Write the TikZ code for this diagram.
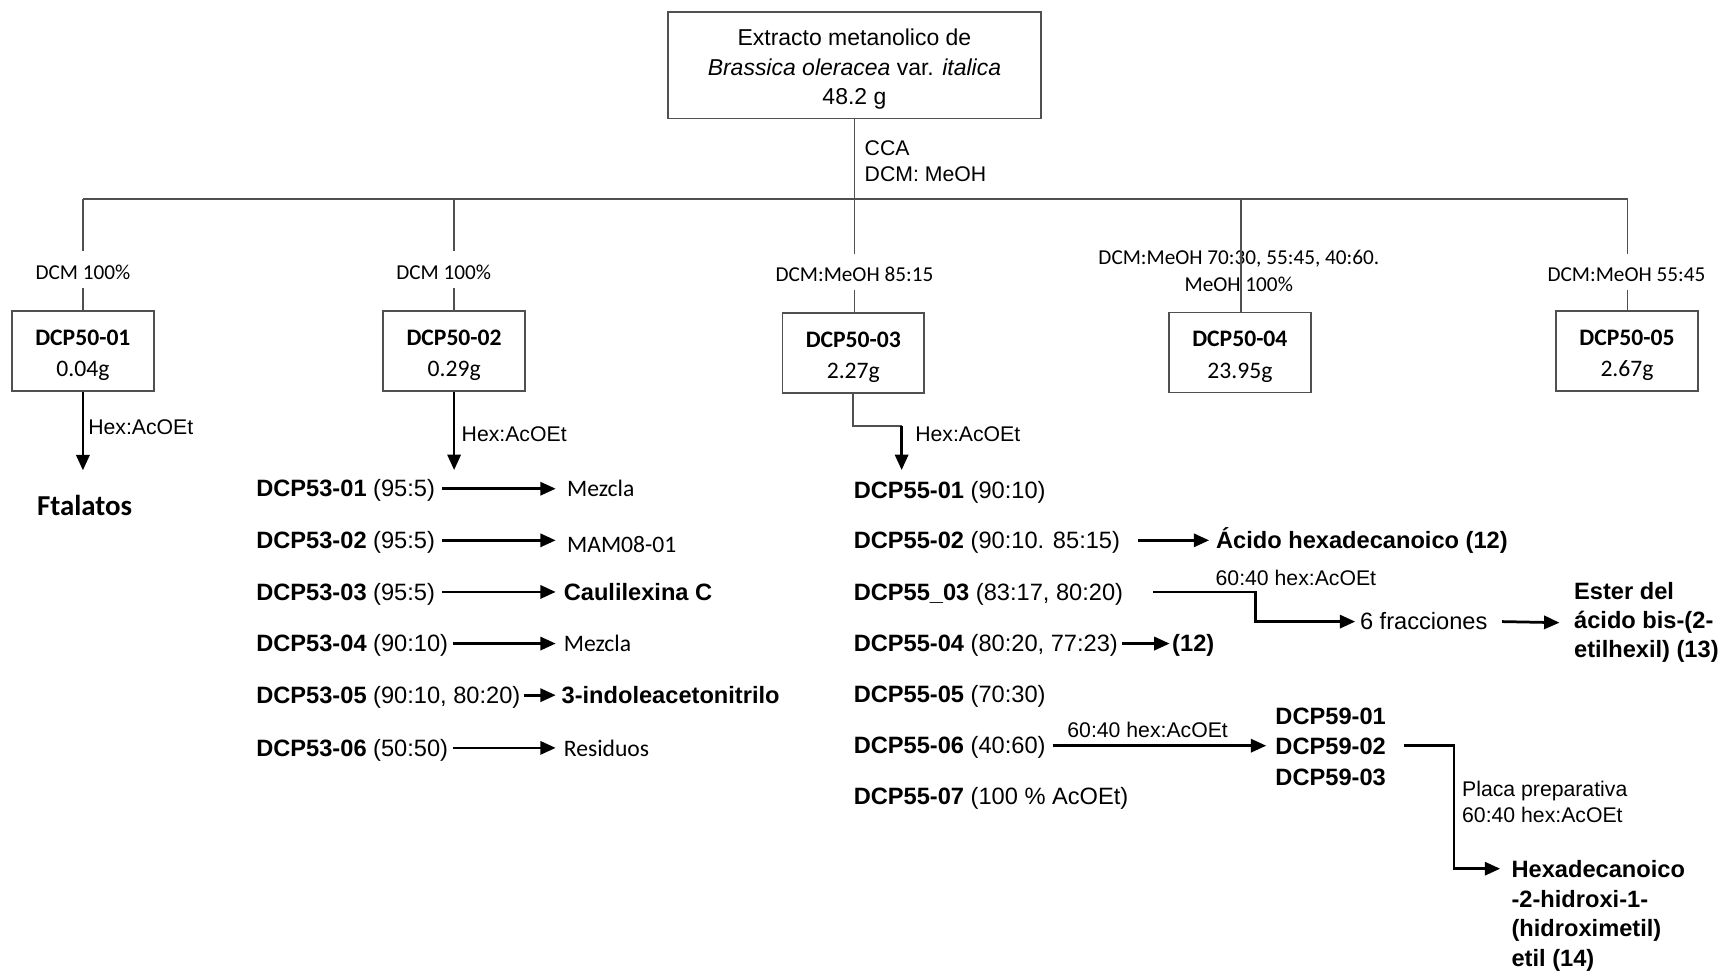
\documentclass[tikz,border=0pt]{standalone}
\usepackage{fontspec}
\setmainfont{Liberation Sans}
\newfontfamily\calib{Carlito}
\usetikzlibrary{arrows.meta,calc}
\definecolor{ln}{HTML}{505050}
\newcommand{\topstrut}{\rule{0pt}{11bp}}
\begin{document}
\begin{tikzpicture}[x=0.5bp,y=-0.5bp,
  tline/.style={draw=ln,line width=0.75bp},
  arr/.style={draw=black,line width=1.25bp,-{Triangle[length=7bp,width=6bp]}},
  box/.style={draw=ln,line width=0.75bp,minimum width=64.5bp,minimum height=36.5bp,inner sep=0pt,align=center,font=\calib\fontsize{10.8}{14.5}\selectfont},
  clab/.style={inner sep=0pt,align=center,font=\calib\fontsize{9.7}{12.5}\selectfont},
  alab/.style={inner sep=0pt,align=left,font=\fontsize{9.7}{12}\selectfont},
  row/.style={anchor=west,inner sep=0pt,text height=9bp,text depth=1.5bp,font=\fontsize{10.8}{13}\selectfont},
  crow/.style={row,font=\calib\fontsize{10.8}{13}\selectfont},
  brow/.style={row,font=\bfseries\fontsize{10.8}{13}\selectfont},
  multi/.style={anchor=west,inner sep=0pt,align=left,font=\bfseries\fontsize{10.8}{13.5}\selectfont}]
\useasboundingbox (0,0) rectangle (1568,884);

% top box
\node[draw=ln,line width=0.75bp,minimum width=170bp,minimum height=48.5bp,inner sep=0pt,align=center,font=\fontsize{10.5}{13.5}\selectfont] (top) at (778,59.5) {\topstrut Extracto metanolico de\\\textit{Brassica oleracea} var. \textit{italica}\\48.2 g};
\coordinate (jc) at (778,181);
\coordinate (j1) at (75.5,181);
\coordinate (j2) at (413.5,181);
\coordinate (j4) at (1130,181);
\coordinate (j5) at (1482,181);
\draw[tline] (top.south) -- (jc);
\draw[tline] (j1) -- (j5);
\node[alab,anchor=west] (cca) at (787,146.5) {CCA\\DCM: MeOH};

% branch labels
\node[clab] (l1) at (75.5,248) {DCM 100\%};
\node[clab] (l2) at (404,248) {DCM 100\%};
\node[clab] (l3) at (778,250) {DCM:MeOH 85:15};
\node[clab] (l4) at (1128,246.5) {DCM:MeOH 70:30, 55:45, 40:60.\\MeOH 100\%};
\node[clab] (l5) at (1481,250) {DCM:MeOH 55:45};

% boxes
\node[box] (b1) at (75.5,319.5) {\topstrut\textbf{DCP50-01}\\0.04g};
\node[box] (b2) at (413.5,319.5) {\topstrut\textbf{DCP50-02}\\0.29g};
\node[box] (b3) at (777,321.5) {\topstrut\textbf{DCP50-03}\\2.27g};
\node[box] (b4) at (1129,321) {\topstrut\textbf{DCP50-04}\\23.95g};
\node[box] (b5) at (1481.5,319.5) {\topstrut\textbf{DCP50-05}\\2.67g};

% branch lines
\draw[tline] (j1) -- ($(j1|-l1.north)+(0,-12)$);
\draw[tline] ($(j1|-l1.south)+(0,7)$) -- (j1|-b1.north);
\draw[tline] (j2) -- ($(j2|-l2.north)+(0,-12)$);
\draw[tline] ($(j2|-l2.south)+(0,7)$) -- (j2|-b2.north);
\draw[tline] (jc) -- ($(jc|-l3.north)+(0,-12)$);
\draw[tline] ($(jc|-l3.south)+(0,7)$) -- (jc|-b3.north);
\draw[tline] (j4) -- (j4|-b4.north);
\draw[tline] (j5) -- ($(j5|-l5.north)+(0,-12)$);
\draw[tline] ($(j5|-l5.south)+(0,7)$) -- (j5|-b5.north);

% column 1
\node[inner sep=0pt,font=\calib\bfseries\fontsize{13.2}{15}\selectfont] (ft) at (77,460) {Ftalatos};
\draw[arr] (b1.south) -- ($(b1.south|-ft.north)+(0,-22)$);
\node[alab,anchor=west] (h1) at (80,389) {Hex:AcOEt};

% column 2
\coordinate (e2) at (413.5,428);
\draw[arr] (b2.south) -- (e2);
\node[alab,anchor=west] (h2) at (420,395) {Hex:AcOEt};

\node[row] (r1) at (233,445) {\textbf{DCP53-01} (95:5)};
\node[row] (r2) at (233,492) {\textbf{DCP53-02} (95:5)};
\node[row] (r3) at (233,539) {\textbf{DCP53-03} (95:5)};
\node[row] (r4) at (233,586) {\textbf{DCP53-04} (90:10)};
\node[row] (r5) at (233,633) {\textbf{DCP53-05} (90:10, 80:20)};
\node[row] (r6) at (233,681) {\textbf{DCP53-06} (50:50)};

\node[crow] (t1) at (516,445) {Mezcla};
\node[crow] (t2) at (516,496) {MAM08-01};
\node[brow] (t3) at (513,539) {Caulilexina C};
\node[crow] (t4) at (513,586) {Mezcla};
\node[brow] (t5) at (511,633) {3-indoleacetonitrilo};
\node[crow] (t6) at (513,681) {Residuos};

\coordinate (ax) at (506,0);
\draw[arr] ($(r1.east)+(6,0)$) -- (ax|-r1.east);
\draw[arr] ($(r2.east)+(6,0)$) -- (ax|-r2.east);
\draw[arr] ($(r3.east)+(6,0)$) -- (ax|-r3.east);
\draw[arr] ($(r4.east)+(4,0)$) -- (ax|-r4.east);
\draw[arr] ($(r5.east)+(3,0)$) -- (ax|-r5.east);
\draw[arr] ($(r6.east)+(4,0)$) -- (ax|-r6.east);

% column 3
\coordinate (k3) at (821,388);
\coordinate (e3) at (821,428);
\draw[tline] (b3.south) |- (k3);
\draw[arr] (k3) -- (e3);
\node[alab,anchor=west] (h3) at (833,395) {Hex:AcOEt};

\node[row] (s1) at (777,446) {\textbf{DCP55-01} (90:10)};
\node[row] (s2) at (777,492) {\textbf{DCP55-02} (90:10. 85:15)};
\node[row] (s3) at (777,539) {\textbf{DCP55\_03} (83:17, 80:20)};
\node[row] (s4) at (777,586) {\textbf{DCP55-04} (80:20, 77:23)};
\node[row] (s5) at (777,632) {\textbf{DCP55-05} (70:30)};
\node[row] (s6) at (777,679) {\textbf{DCP55-06} (40:60)};
\node[row] (s7) at (777,725) {\textbf{DCP55-07} (100 \% AcOEt)};

\node[brow] (u2) at (1107,492) {Ácido hexadecanoico (12)};
\draw[arr] ($(s2.east)+(16,0)$) -- ($(u2.west)+(-6,0)$);

\coordinate (k31) at (1143,539);
\node[row] (fr) at (1238,566) {6 fracciones};
\draw[arr] ($(s3.east)+(27,0)$) -- (k31) |- ($(fr.west)+(-4,0)$);
\node[alab] (lb3) at (1180,526) {60:40 hex:AcOEt};
\node[multi,font=\bfseries\fontsize{10.8}{13.25}\selectfont] (est) at (1433,567) {Ester del\\ácido bis-(2-\\etilhexil) (13)};
\draw[arr] ($(fr.east)+(13,0)$) -- ($(est.west)+(-13,0)$);

\node[brow] (u4) at (1067,586) {(12)};
\draw[arr] ($(s4.east)+(3,0)$) -- ($(u4.west)+(-2,0)$);

\node[multi,font=\bfseries\fontsize{10.8}{13.75}\selectfont] (d59) at (1161,680) {DCP59-01\\DCP59-02\\DCP59-03};
\draw[arr] ($(s6.east)+(6,0)$) -- ($(d59.west|-s6.east)+(-8,0)$);
\node[alab] (lb6) at (1045,665) {60:40 hex:AcOEt};

\coordinate (k61) at (1324,679);
\coordinate (hexin) at (1366,791);
\draw[arr] ($(d59.east|-s6.east)+(16,0)$) -- (k61) |- (hexin);
\node[alab,anchor=west] (pp) at (1331,730) {Placa preparativa\\60:40 hex:AcOEt};
\node[multi] (hex) at (1376,834) {Hexadecanoico\\-2-hidroxi-1-\\(hidroximetil)\\etil (14)};
\end{tikzpicture}
\end{document}
